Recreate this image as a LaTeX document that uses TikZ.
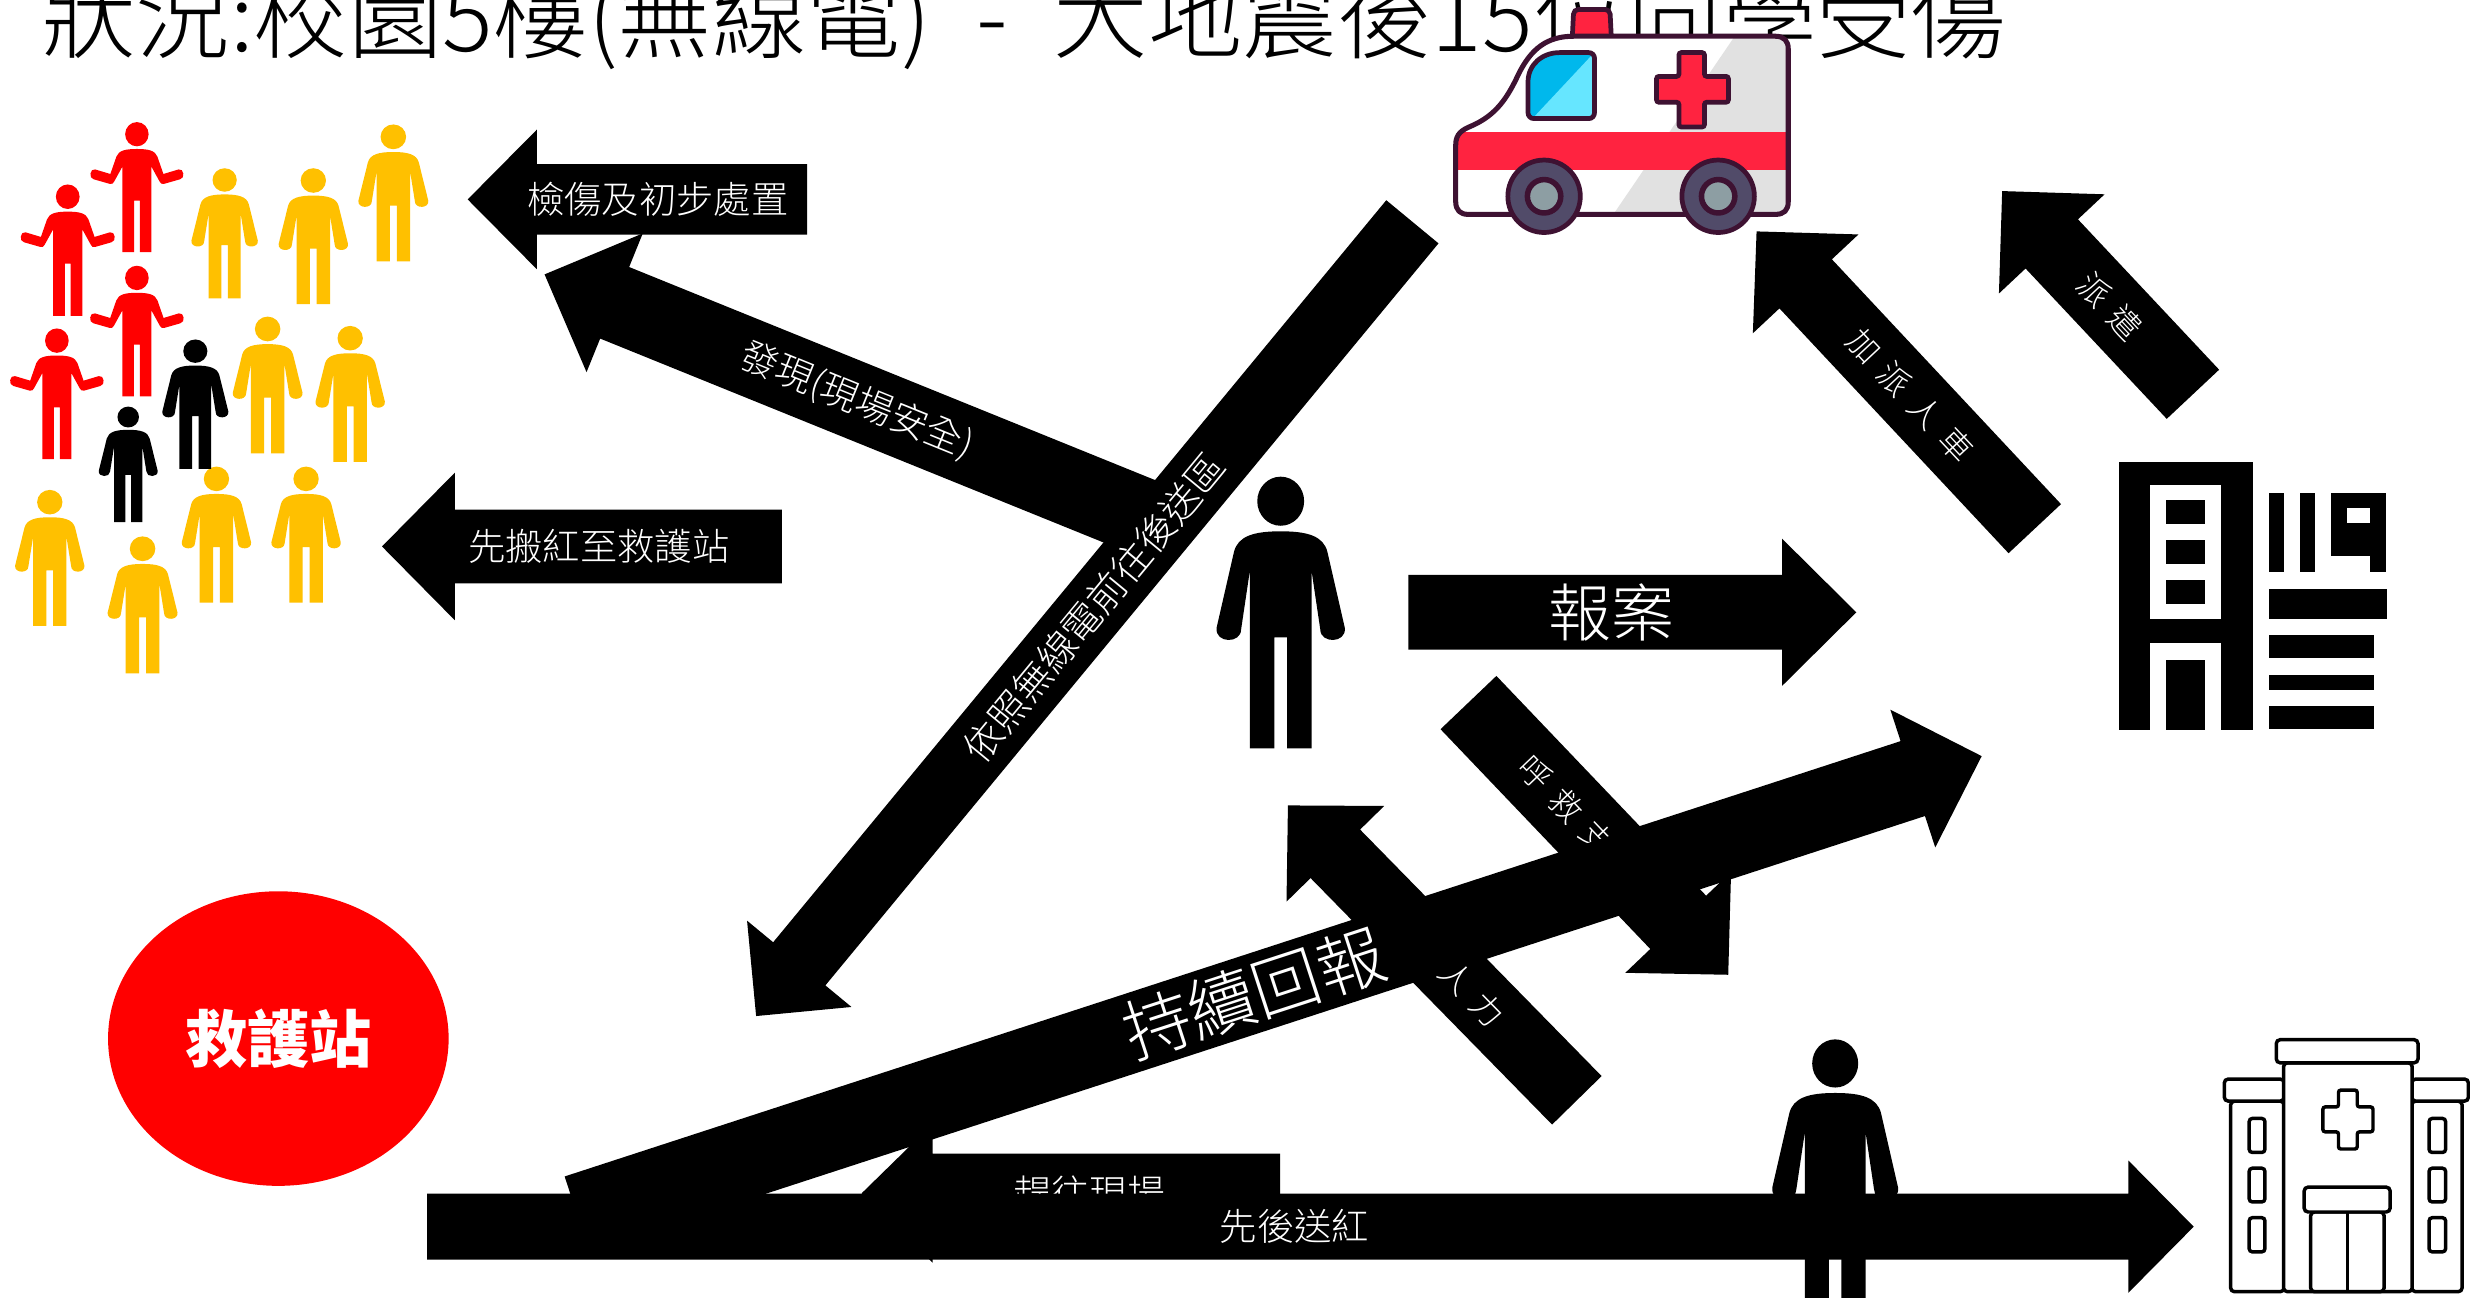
\documentclass[tikz,border=0pt]{standalone}
\usepackage{fontspec}
\IfFontExistsTF{Noto Sans CJK TC Light}
  {\setmainfont{Noto Sans CJK TC Light}}
  {\IfFontExistsTF{Noto Sans CJK TC DemiLight}
    {\setmainfont{Noto Sans CJK TC DemiLight}}
    {\setmainfont{Noto Sans CJK TC}}}
\newfontfamily\stationfont{Noto Sans CJK TC}
\usetikzlibrary{calc,shapes.geometric}

\definecolor{crowdred}{HTML}{FF0000}
\definecolor{crowdyellow}{HTML}{FFC000}
\definecolor{ambline}{HTML}{3E1232}
\definecolor{ambred}{HTML}{FF2340}
\definecolor{ambgrey}{HTML}{E1E1E1}
\definecolor{tyre}{HTML}{514B69}
\definecolor{hub}{HTML}{8D9EA3}
\definecolor{glassdark}{HTML}{00B8EC}
\definecolor{glasslight}{HTML}{66E6FF}
\definecolor{stationred}{HTML}{FF0000}

\tikzset{
  arrowbody/.style={fill=black},
  labelbase/.style={text=white, inner sep=0pt},
  smalllabel/.style={labelbase, font=\fontsize{23.7}{24}\selectfont},
  spacedlabel/.style={labelbase, font=\fontsize{20.5}{21}\selectfont},
  biglabel/.style={labelbase, font=\fontsize{40}{40}\selectfont},
  outline/.style={draw=black, fill=white, line width=2.2pt, rounded corners=2.5pt},
}

% block arrow: name, tail, tip, half shaft width, half head width, head length
\newcommand\blockarrow[6]{%
  \coordinate (#1-tail) at #2;
  \coordinate (#1-tip) at #3;
  \coordinate (#1-base) at ($(#1-tip)!#6!(#1-tail)$);
  \fill[arrowbody] ($(#1-tail)!#4!90:(#1-tip)$)
    -- ($(#1-base)!#4!90:(#1-tip)$)
    -- ($(#1-base)!#5!90:(#1-tip)$)
    -- (#1-tip)
    -- ($(#1-base)!#5!-90:(#1-tip)$)
    -- ($(#1-base)!#4!-90:(#1-tip)$)
    -- ($(#1-tail)!#4!-90:(#1-tip)$) -- cycle;
}

\newcommand\lsgap{\hspace{8.1pt}}

% standing pictogram: [x stretch] feet x, feet y, height, colour
\newcommand\standfig[5][1]{%
  \begin{scope}[shift={(#2,#3)}, scale=#4/171.3, xscale=#1]
    \fill[#5] (0,-156) ellipse [x radius=14.8, y radius=15.5];
    \fill[#5] (0,-137) .. controls (17,-137) and (27,-134) .. (29.5,-124)
      -- (40.5,-76) .. controls (41.5,-66) and (25,-66) .. (25,-75)
      -- (19.5,-112) -- (19.5,0) -- (4,0) -- (4,-70) -- (-4,-70) -- (-4,0)
      -- (-19.5,0) -- (-19.5,-112) -- (-25,-75)
      .. controls (-25,-66) and (-41.5,-66) .. (-40.5,-76)
      -- (-29.5,-124) .. controls (-27,-134) and (-17,-137) .. (0,-137) -- cycle;
  \end{scope}}

% pictogram with raised forearms: feet x, feet y, height, colour
\newcommand\shrugfig[4]{%
  \begin{scope}[shift={(#1,#2)}, scale=#3/171.5]
    \fill[#4] (0,-155.5) ellipse [x radius=15.5, y radius=16];
    \fill[#4] (0,-136) .. controls (15,-136) and (24,-134) .. (27,-126)
      -- (35,-103) -- (55,-109) .. controls (62,-111) and (64,-97) .. (57,-96)
      -- (36,-90) .. controls (33,-89.5) and (31,-90) .. (30,-93)
      -- (19,-113) -- (19,0) -- (3.8,0) -- (3.8,-68) -- (-3.8,-68) -- (-3.8,0)
      -- (-19,0) -- (-19,-113) -- (-30,-93)
      .. controls (-31,-90) and (-33,-89.5) .. (-36,-90)
      -- (-57,-96) .. controls (-64,-97) and (-62,-111) .. (-55,-109)
      -- (-35,-103) -- (-27,-126) .. controls (-24,-134) and (-15,-136) .. (0,-136) -- cycle;
  \end{scope}}

\def\ambbodypath{(924.1,128) -- (924.1,92) .. controls (924.1,85) and (928,82.5) .. (934,80)
  .. controls (950,73) and (957,62) .. (964,47) .. controls (972,31) and (982,23) .. (999,23)
  -- (1127,23) .. controls (1132.5,23) and (1135.2,26) .. (1135.2,31)
  -- (1135.2,128) .. controls (1135.2,133.5) and (1132.5,136.1) .. (1127,136.1)
  -- (932,136.1) .. controls (927,136.1) and (924.1,133.5) .. (924.1,128) -- cycle}
\def\ambwindowpath{(970,71.5) -- (970,52) .. controls (970,41) and (979,33.4) .. (990,33.4)
  -- (1008.5,33.4) .. controls (1010.7,33.4) and (1012.2,35) .. (1012.2,37)
  -- (1012.2,71.5) .. controls (1012.2,73.6) and (1010.7,75.3) .. (1008.5,75.3)
  -- (973.7,75.3) .. controls (971.6,75.3) and (970,73.6) .. (970,71.5) -- cycle}

\begin{document}
\begin{tikzpicture}[x=1pt, y=-1pt]
\useasboundingbox (0,0) rectangle (1568,823.4);
\clip (0,0) rectangle (1568,823.4);
\fill[white] (0,0) rectangle (1568,823.4);

% heading
\node[anchor=base west, inner sep=0pt, font=\fontsize{60}{60}\selectfont] (title) at (26,33)
  {狀況:校園5樓(無線電)\hspace{29pt}-\hspace{29pt}大地震後15位同學受傷};

% crowd of casualties
\shrugfig{86.9}{160}{82.5}{crowdred}
\shrugfig{43}{200.5}{83.4}{crowdred}
\shrugfig{86.9}{251.7}{83}{crowdred}
\shrugfig{36.1}{291.5}{83}{crowdred}
\standfig[1.08]{142.6}{189.4}{82.5}{crowdyellow}
\standfig[1.08]{198.9}{193.1}{86.2}{crowdyellow}
\standfig[1.08]{249.7}{166}{86.9}{crowdyellow}
\standfig[1.08]{169.9}{287.8}{86.7}{crowdyellow}
\standfig[1.08]{222.3}{293.2}{86.2}{crowdyellow}
\standfig[1.08]{137.4}{382.5}{86.2}{crowdyellow}
\standfig[1.08]{194.3}{382.5}{86.2}{crowdyellow}
\standfig[1.08]{31.6}{397.3}{86.2}{crowdyellow}
\standfig[1.08]{90.5}{427.5}{86.9}{crowdyellow}
\standfig[1.08]{124}{297.7}{82.1}{black}
\standfig[1.08]{81.4}{331.4}{73.2}{black}

% ambulance
\filldraw[fill=ambred, draw=ambline, line width=3pt, rounded corners=3pt]
  (998,26) -- (999,6) -- (1022,6) -- (1023,26) -- cycle;
\fill[white] \ambbodypath;
\begin{scope}
  \clip \ambbodypath;
  \fill[ambgrey] (1116.9,0) -- (1200,0) -- (1200,150) -- (1014.7,150) -- cycle;
  \fill[ambred] (900,83.7) rectangle (1200,107.8);
\end{scope}
\draw[ambline, line width=3.2pt, line join=round] \ambbodypath;
\fill[glassdark] \ambwindowpath;
\begin{scope}
  \clip \ambwindowpath;
  \fill[glasslight] (962.8,86) -- (1022.7,22) -- (1030,22) -- (1030,86) -- cycle;
\end{scope}
\draw[ambline, line width=3pt] \ambwindowpath;
\filldraw[fill=ambred, draw=ambline, line width=3pt, rounded corners=1.5pt]
  (1065.8,33.4) -- (1082,33.4) -- (1082,48.5) -- (1097.2,48.5) -- (1097.2,64.9)
  -- (1082,64.9) -- (1082,80.6) -- (1065.8,80.6) -- (1065.8,64.9) -- (1051.6,64.9)
  -- (1051.6,48.5) -- (1065.8,48.5) -- cycle;
\foreach \wx in {980.2,1090.7}{
  \filldraw[fill=tyre, draw=ambline, line width=3pt] (\wx,124.6) circle [radius=23];
  \filldraw[fill=hub, draw=ambline, line width=3.5pt] (\wx,124.6) circle [radius=10.6];
}

% 119 dispatch centre
\fill[black] (1344.9,293) rectangle (1430,463.4);
\fill[white] (1365.1,307.9) rectangle (1409.7,393.1);
\fill[black] (1374.8,317.6) rectangle (1399.7,332.7);
\fill[black] (1374.8,343) rectangle (1399.7,358.1);
\fill[black] (1374.8,368) rectangle (1399.7,383.2);
\fill[white] (1365.1,408.2) rectangle (1409.7,464);
\fill[black] (1374.8,418.7) rectangle (1399.7,463.4);
\fill[black] (1440.3,313.2) rectangle (1449.6,363.2);
\fill[black] (1460.2,313.2) rectangle (1469.6,363.2);
\fill[black] (1479.9,312.8) rectangle (1514.8,362.8);
\fill[white] (1489.8,322.3) rectangle (1504.8,332.2);
\fill[white] (1479.9,352.7) rectangle (1504.8,363);
\fill[black] (1440.3,373.7) rectangle (1515.4,393.1);
\fill[black] (1440.3,403.4) rectangle (1507.3,418);
\fill[black] (1440.3,428.5) rectangle (1507.3,438.2);
\fill[black] (1440.3,448.4) rectangle (1507.3,463);

% hospital
\filldraw[outline] (1416,699) rectangle (1450,820);
\filldraw[outline] (1531,699) rectangle (1563,820);
\filldraw[outline] (1412,685) rectangle (1450,699);
\filldraw[outline] (1531,685) rectangle (1567,699);
\filldraw[outline] (1449.6,674.7) rectangle (1531.3,820);
\filldraw[outline] (1445,660) rectangle (1535,674.7);
\foreach \wy/\wz in {710/731.6, 741.6/763, 773/794.7}{
  \filldraw[outline, rounded corners=2pt] (1427.8,\wy) rectangle (1437.8,\wz);
  \filldraw[outline, rounded corners=2pt] (1542,\wy) rectangle (1552.5,\wz);
}
\filldraw[outline, rounded corners=1.5pt] (1484.5,692) -- (1496.4,692) -- (1496.4,702.7)
  -- (1506.4,702.7) -- (1506.4,718.5) -- (1496.4,718.5) -- (1496.4,729.4) -- (1484.5,729.4)
  -- (1484.5,718.5) -- (1474.6,718.5) -- (1474.6,702.7) -- (1484.5,702.7) -- cycle;
\filldraw[outline] (1466.8,769.4) rectangle (1513.5,820);
\draw[line width=2.2pt] (1490.2,769.4) -- (1490.2,820);
\filldraw[outline] (1462.7,753.6) rectangle (1517.3,769.4);

% rescue station
\node[ellipse, fill=stationred, minimum width=216.2pt, minimum height=187pt, inner sep=0pt,
  text=white, font=\fontsize{39.5}{40}\stationfont\bfseries] (station) at (176.7,659.3) {救護站};

% reporting person
\standfig{813}{475}{172.2}{black}

% flow arrows
\blockarrow{ark}{(512.4,126.6)}{(296.9,126.6)}{22.4pt}{44.3pt}{43.9pt}
\path (ark-tail) -- (ark-tip) node[smalllabel, sloped, pos=0.44] (ark-label) {檢傷及初步處置};

\blockarrow{arm}{(496.4,346.9)}{(242.5,346.9)}{23.4pt}{46.8pt}{46.2pt}
\path (arm-tail) -- (arm-tip) node[smalllabel, sloped, pos=0.458] (arm-label) {先搬紅至救護站};

\blockarrow{arfind}{(737.7,333)}{(345.7,174.2)}{24.5pt}{47.5pt}{48pt}
\path (arfind-tail) -- (arfind-tip) node[smalllabel, sloped, pos=0.494] (arfind-label) {發現(現場安全)};

\blockarrow{arradio}{(896.6,140.8)}{(480,645)}{21.5pt}{43pt}{43pt}
\path (arradio-tail) -- (arradio-tip) node[labelbase, font=\fontsize{24.5}{25}\selectfont, sloped, pos=0.485] (arradio-label) {依照無線電前往後送區};

\blockarrow{arrep}{(894,388.7)}{(1178.4,388.7)}{23.7pt}{46.7pt}{47.1pt}
\path (arrep-tail) -- (arrep-tip) node[biglabel, sloped, pos=0.454] (arrep-label) {報案};

\blockarrow{aradd}{(1291.7,335.6)}{(1115.1,146.9)}{22.8pt}{45.9pt}{45.6pt}
\path (aradd-tail) -- (aradd-tip) node[spacedlabel, sloped, pos=0.448] (aradd-label) {加\lsgap 派\lsgap 人\lsgap 車};

\blockarrow{ardisp}{(1392.1,250.3)}{(1271,121.3)}{22.8pt}{46pt}{46pt}
\path (ardisp-tail) -- (ardisp-tip) node[spacedlabel, sloped, pos=0.434] (ardisp-label) {派\lsgap 遣};

\blockarrow{arcall}{(932.2,446)}{(1097.1,618.8)}{24.5pt}{46.4pt}{46pt}
\path (arcall-tail) -- (arcall-tip) node[spacedlabel, sloped, pos=0.438] (arcall-label) {呼\lsgap 救\lsgap 支\lsgap 援};

\blockarrow{arhelp}{(1001,698.5)}{(817.6,511.3)}{22pt}{43.4pt}{43pt}
\path (arhelp-tail) -- (arhelp-tip) node[spacedlabel, sloped, pos=0.363] (arhelp-label) {人\lsgap 力};

\blockarrow{arrush}{(812.7,757.5)}{(547,757.5)}{25.2pt}{44pt}{45pt}
\path (arrush-tail) -- (arrush-tip) node[labelbase, font=\fontsize{24}{24}\selectfont, sloped, pos=0.456] (arrush-label) {趕往現場};

\blockarrow{arreport}{(366.2,770.6)}{(1258,480)}{25pt}{46pt}{46pt}
\path (arreport-tail) -- (arreport-tip) node[labelbase, font=\fontsize{43}{43}\selectfont, sloped, pos=0.482] (arreport-label) {持續回報};

% transporting person behind the last arrow
\standfig{1165}{829}{169}{black}

\blockarrow{arsend}{(271.2,778.7)}{(1392.6,778.7)}{21pt}{42pt}{41.5pt}
\path (arsend-tail) -- (arsend-tip) node[smalllabel, sloped, pos=0.491] (arsend-label) {先後送紅};

\end{tikzpicture}
\end{document}
